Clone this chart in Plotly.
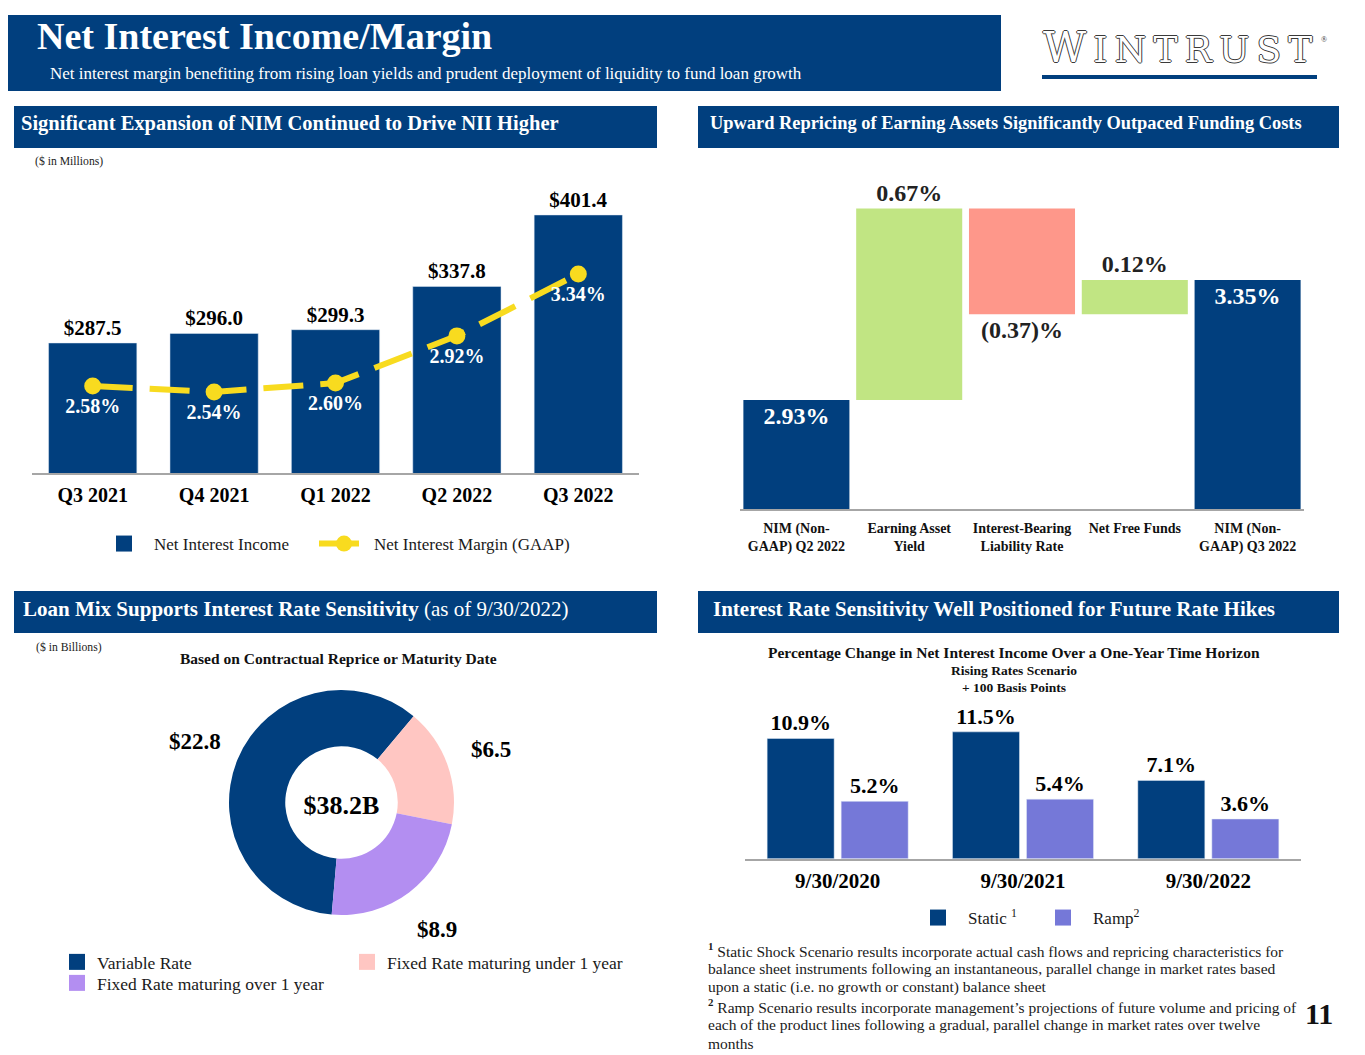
import math
import plotly.graph_objects as go

# ---- data -------------------------------------------------------------
quarters = ["Q3 2021", "Q4 2021", "Q1 2022", "Q2 2022", "Q3 2022"]
nii = [287.5, 296.0, 299.3, 337.8, 401.4]          # $ millions
nim = [2.58, 2.54, 2.60, 2.92, 3.34]               # %

wf_labels = ["NIM (Non-<br>GAAP) Q2 2022", "Earning Asset<br>Yield",
             "Interest-Bearing<br>Liability Rate", "Net Free Funds",
             "NIM (Non-<br>GAAP) Q3 2022"]
wf_measure = ["absolute", "relative", "relative", "relative", "total"]
wf_values = [2.93, 0.67, -0.37, 0.12, 0]
wf_text = ["2.93%", "0.67%", "(0.37)%", "0.12%", "3.35%"]

loan_labels = ["Variable Rate", "Fixed Rate maturing under 1 year",
               "Fixed Rate maturing over 1 year"]
loan_values = [22.8, 6.5, 8.9]                     # $ billions

sens_dates = ["9/30/2020", "9/30/2021", "9/30/2022"]
sens_static = [10.9, 11.5, 7.1]
sens_ramp = [5.2, 5.4, 3.6]

footnote_lines = [
    "<sup><b>1</b></sup> Static Shock Scenario results incorporate actual cash flows and repricing characteristics for",
    "balance sheet instruments following an instantaneous, parallel change in market rates based",
    "upon a static (i.e. no growth or constant) balance sheet",
    "<sup><b>2</b></sup> Ramp Scenario results incorporate management\u2019s projections of future volume and pricing of",
    "each of the product lines following a gradual, parallel change in market rates over twelve",
    "months",
]

# ---- style -------------------------------------------------------------
W, H = 1365, 1055
OFF = 8   # page body margin the plot div sits in
SERIF = "Liberation Serif, Times New Roman, serif"
NAVY = "#013F7E"
YELLOW = "#F8DB1F"
GREEN = "#C1E583"
SALMON = "#FE978A"
PINK = "#FFC6C2"
LAVENDER = "#B38EF1"
RAMP = "#7578D8"
AXIS_GRAY = "#A6A6A6"


def px(x):
    return (x - OFF) / W


def py(y):
    return 1 - (y - OFF) / H


fig = go.Figure()

# chart 1: net interest income bars + margin line
fig.add_trace(go.Bar(
    x=quarters, y=nii, marker_color=NAVY, width=0.727, showlegend=False,
    text=[f"${v:.1f}" for v in nii], textposition="outside", cliponaxis=False,
    textfont=dict(family=SERIF, size=21, color="black", weight="bold"),
    xaxis="x", yaxis="y", hoverinfo="skip"))
fig.add_trace(go.Scatter(
    x=[None], y=[None], mode="markers", name="Net Interest Income",
    marker=dict(symbol="square", size=16, color=NAVY), legend="legend6"))
fig.add_trace(go.Scatter(
    x=quarters, y=nim, mode="lines+markers+text", name="Net Interest Margin (GAAP)",
    line=dict(color=YELLOW, width=6, dash="40px,17px"),
    marker=dict(size=17, color=YELLOW),
    text=[f"{v:.2f}%" for v in nim], textposition="bottom center",
    textfont=dict(family=SERIF, size=20, color="white", weight="bold"),
    cliponaxis=False, xaxis="x", yaxis="y2", legend="legend"))

# chart 2: waterfall
fig.add_trace(go.Waterfall(
    x=wf_labels, y=wf_values, measure=wf_measure, text=wf_text,
    textposition=["inside", "outside", "outside", "outside", "inside"],
    insidetextanchor="end", constraintext="none", cliponaxis=False,
    insidetextfont=dict(family=SERIF, size=24, color="white", weight="bold"),
    outsidetextfont=dict(family=SERIF, size=24, color="#222222", weight="bold"),
    increasing=dict(marker=dict(color=GREEN)),
    decreasing=dict(marker=dict(color=SALMON)),
    totals=dict(marker=dict(color=NAVY)),
    connector=dict(visible=False), showlegend=False,
    xaxis="x2", yaxis="y3", hoverinfo="skip"))

# chart 3: loan mix donut
PIE_CX, PIE_CY, PIE_R = 341.5, 802.5, 112.5
PIE_ROT = 185
fig.add_trace(go.Pie(
    labels=loan_labels, values=loan_values, hole=0.5, sort=False,
    direction="clockwise", rotation=PIE_ROT,
    marker=dict(colors=[NAVY, PINK, LAVENDER], line=dict(width=0)),
    textinfo="none",
    title=dict(text=f"${sum(loan_values):.1f}B", position="middle center",
               font=dict(family=SERIF, size=26, color="black", weight="bold")),
    domain=dict(x=[px(PIE_CX - PIE_R), px(PIE_CX + PIE_R)],
                y=[py(PIE_CY + PIE_R), py(PIE_CY - PIE_R)]),
    showlegend=False, hoverinfo="skip"))
for name, color, leg in [("Variable Rate", NAVY, "legend3"),
                         ("Fixed Rate maturing over 1 year", LAVENDER, "legend5"),
                         ("Fixed Rate maturing under 1 year", PINK, "legend4")]:
    fig.add_trace(go.Scatter(x=[None], y=[None], mode="markers", name=name,
                             marker=dict(symbol="square", size=16, color=color),
                             legend=leg))

# chart 4: rate sensitivity
fig.add_trace(go.Bar(
    x=sens_dates, y=sens_static, marker_color=NAVY, width=0.3616, offset=-0.3805,
    text=[f"{v:.1f}%" for v in sens_static], textposition="outside", cliponaxis=False,
    textfont=dict(family=SERIF, size=22, color="black", weight="bold"),
    showlegend=False, xaxis="x3", yaxis="y4", hoverinfo="skip"))
fig.add_trace(go.Bar(
    x=sens_dates, y=sens_ramp, marker_color=RAMP, width=0.3616, offset=0.0189,
    text=[f"{v:.1f}%" for v in sens_ramp], textposition="outside", cliponaxis=False,
    textfont=dict(family=SERIF, size=22, color="black", weight="bold"),
    showlegend=False, xaxis="x3", yaxis="y4", hoverinfo="skip"))
fig.add_trace(go.Scatter(x=[None], y=[None], mode="markers", name="Static <sup>1</sup>",
                         marker=dict(symbol="square", size=16, color=NAVY), legend="legend2"))
fig.add_trace(go.Scatter(x=[None], y=[None], mode="markers", name="Ramp<sup>2</sup>",
                         marker=dict(symbol="square", size=16, color=RAMP), legend="legend2"))

# ---- axes --------------------------------------------------------------
base_x = dict(showgrid=False, zeroline=False, showline=True, linecolor=AXIS_GRAY,
              linewidth=2, ticks="", fixedrange=True)
hidden_y = dict(visible=False, showgrid=False, zeroline=False, fixedrange=True)

fig.update_layout(
    xaxis=dict(base_x, domain=[px(32), px(639)], anchor="y", ticklabelstandoff=3,
               tickfont=dict(family=SERIF, size=20, color="black", weight="bold")),
    yaxis=dict(hidden_y, domain=[py(473), py(170)], range=[171.8, 441.4]),
    yaxis2=dict(hidden_y, overlaying="y", range=[1.99, 4.045]),
    xaxis2=dict(base_x, domain=[px(740), px(1304)], anchor="y3", ticklabelstandoff=5,
                tickfont=dict(family=SERIF, size=14, color="#111111", weight="bold")),
    yaxis3=dict(hidden_y, domain=[py(509), py(170)], range=[2.5485, 3.735], anchor="x2"),
    xaxis3=dict(base_x, domain=[px(745), px(1301)], anchor="y4", ticklabelstandoff=2,
                tickfont=dict(family=SERIF, size=21, color="black", weight="bold")),
    yaxis4=dict(hidden_y, domain=[py(858.7), py(700)], range=[0, 14.39], anchor="x3"),
    barmode="overlay",
    waterfallgap=0.06,
)

# ---- legends -----------------------------------------------------------
leg_font = dict(family=SERIF, size=17, color="#1a1a1a")
leg_small = dict(family=SERIF, size=17.5, color="#1a1a1a")
clear = "rgba(0,0,0,0)"
fig.update_layout(
    legend6=dict(x=px(94), y=py(544), xanchor="left", yanchor="middle",
                 itemwidth=50, font=leg_font, bgcolor=clear),
    legend=dict(x=px(314), y=py(544), xanchor="left", yanchor="middle",
                itemwidth=50, font=leg_font, bgcolor=clear),
    legend2=dict(orientation="h", x=px(908), y=py(918), xanchor="left", yanchor="middle",
                 itemwidth=50, entrywidth=60, font=leg_font, bgcolor=clear),
    legend3=dict(x=px(57), y=py(962), xanchor="left", yanchor="middle",
                 font=leg_small, bgcolor=clear),
    legend4=dict(x=px(347), y=py(962), xanchor="left", yanchor="middle",
                 font=leg_small, bgcolor=clear),
    legend5=dict(x=px(57), y=py(983), xanchor="left", yanchor="middle",
                 font=leg_small, bgcolor=clear),
)

# ---- banners and boxes -------------------------------------------------
shapes = []
for x0, y0, x1, y1 in [(0, 15, 1001, 91), (14, 106, 657, 148), (698, 106, 1339, 148),
                       (14, 591, 657, 633), (698, 591, 1339, 633), (1042, 75, 1317, 79)]:
    shapes.append(dict(type="rect", xref="paper", yref="paper",
                       x0=px(x0), x1=px(x1), y0=py(y1), y1=py(y0),
                       fillcolor=NAVY, line=dict(width=0), layer="below"))
fig.update_layout(shapes=shapes)


def note(text, x, y, size, color="black", xanchor="left", yanchor="middle", **kw):
    return dict(text=text, x=px(x), y=py(y), xref="paper", yref="paper",
                xanchor=xanchor, yanchor=yanchor, showarrow=False,
                font=dict(family=kw.pop("family", SERIF), size=size, color=color,
                          **kw.pop("font_extra", {})), **kw)


outline = "1px 0 0 #3a3a3a, -1px 0 0 #3a3a3a, 0 1px 0 #3a3a3a, 0 -1px 0 #3a3a3a"
thin = "\u2009"

annotations = [
    note("<b>Net Interest Income/Margin</b>", 35, 36, 38, "white"),
    note("Net interest margin benefiting from rising loan yields and prudent deployment of liquidity to fund loan growth",
         48, 74, 17, "white"),
    note("W<span style='font-size:36px'>" + thin + thin.join("INTRUST") + "</span>",
         1041, 47, 42, "white", family="DejaVu Serif", font_extra=dict(shadow=outline)),
    note("\u00ae", 1319, 40, 8, "#333333"),
    note("<b>Significant Expansion of NIM Continued to Drive NII Higher</b>", 19, 123, 20.5, "white"),
    note("<b>Upward Repricing of Earning Assets Significantly Outpaced Funding Costs</b>", 708, 123, 18.4, "white"),
    note("($ in Millions)", 33, 162, 11.7, "#222222"),
    note("<b>Loan Mix Supports Interest Rate Sensitivity</b> (as of 9/30/2022)", 21, 609, 21, "white"),
    note("<b>Interest Rate Sensitivity Well Positioned for Future Rate Hikes</b>", 711, 609, 21, "white"),
    note("($ in Billions)", 34, 647, 11.7, "#222222"),
    note("<b>Based on Contractual Reprice or Maturity Date</b>", 338, 658, 15.5, "#111111", xanchor="center"),
    note("<b>Percentage Change in Net Interest Income Over a One-Year Time Horizon</b>", 1014, 652, 15.5,
         "#111111", xanchor="center"),
    note("<b>Rising Rates Scenario</b>", 1014, 670, 13.5, "#111111", xanchor="center"),
    note("<b>+ 100 Basis Points</b>", 1014, 687, 13.5, "#111111", xanchor="center"),
    note("<b>11</b>", 1319, 1013, 30, "#111111", xanchor="center"),
]
for i, line in enumerate(footnote_lines):
    annotations.append(note(line, 706, 950 + i * 18.6, 15.5, "#1a1a1a"))

# donut value labels, set along each slice's middle angle just outside the ring
total = sum(loan_values)
start = PIE_ROT
for v in loan_values:
    mid = math.radians(start + v / total * 180)
    dist = PIE_R * 1.41
    annotations.append(note(f"<b>${v:.1f}</b>", PIE_CX + dist * math.sin(mid),
                            PIE_CY - dist * math.cos(mid), 23, "black", xanchor="center"))
    start += v / total * 360

fig.update_layout(
    annotations=annotations,
    width=W, height=H, autosize=False,
    margin=dict(l=0, r=0, t=0, b=0),
    paper_bgcolor="white", plot_bgcolor="white",
    hovermode=False,
)

fig.write_html("out.html")
